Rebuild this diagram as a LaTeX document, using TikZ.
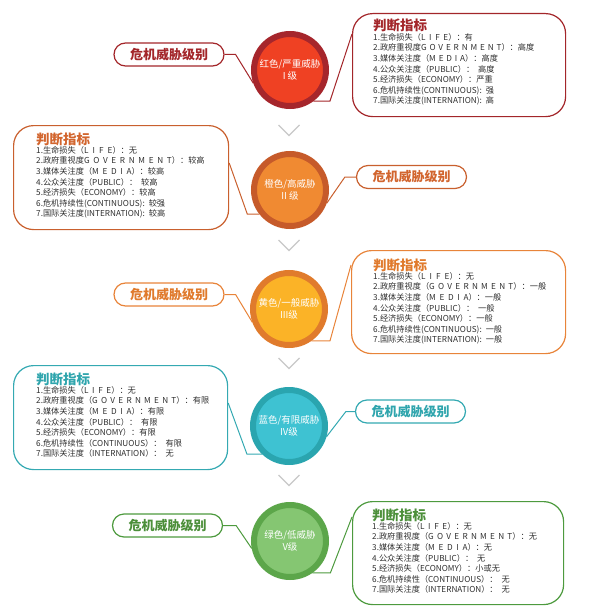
\documentclass[tikz,border=0pt]{standalone}
\usepackage{fontspec}
\setmainfont{Noto Sans CJK SC}
\usetikzlibrary{calc}
\newcommand\lsp[2][40]{{\addfontfeature{LetterSpace=#1}#2}}
\newcommand\gp{\hspace{4pt}}
\definecolor{ringA}{HTML}{A6262C}\definecolor{fillA}{HTML}{EF4123}\definecolor{lineA}{HTML}{A3262A}\definecolor{headA}{HTML}{A3262A}
\definecolor{ringB}{HTML}{C65A2A}\definecolor{fillB}{HTML}{F08A32}\definecolor{lineB}{HTML}{C9602E}\definecolor{headB}{HTML}{D2652E}
\definecolor{ringC}{HTML}{E07B2C}\definecolor{fillC}{HTML}{FBB327}\definecolor{lineC}{HTML}{E8843A}\definecolor{headC}{HTML}{E07A2C}
\definecolor{ringD}{HTML}{2AA5AF}\definecolor{fillD}{HTML}{3EC2D2}\definecolor{lineD}{HTML}{34A9B2}\definecolor{headD}{HTML}{2FA5AD}
\definecolor{ringE}{HTML}{5CA64A}\definecolor{fillE}{HTML}{85C672}\definecolor{lineE}{HTML}{4D9A3E}\definecolor{headE}{HTML}{4C8F3A}
\definecolor{bodytext}{HTML}{2E2E2E}
\definecolor{chev}{HTML}{C8C8C8}
\tikzset{
  lvcircle/.style={circle, line width=6pt, minimum size=72pt, inner sep=0pt,
    text=white, align=center, font=\fontsize{9.5}{12}\selectfont},
  infobox/.style={rectangle, rounded corners=20pt, line width=1.2pt, anchor=north west, inner sep=0pt},
  lvlabel/.style={rectangle, rounded corners=11.5pt, line width=1.2pt, minimum width=110pt,
    minimum height=23pt, inner sep=0pt, font=\fontsize{13}{15}\selectfont\bfseries},
  headtext/.style={anchor=west, inner sep=0pt, font=\fontsize{13.5}{16}\selectfont\bfseries},
  bodytxt/.style={anchor=north west, inner sep=0pt, align=left, text=bodytext,
    font=\fontsize{8.2}{10.6}\selectfont},
  conn/.style={line width=1pt},
  chevron/.style={draw=chev, line width=1.3pt},
}
\begin{document}
\begin{tikzpicture}[x=1pt,y=-1pt]
\useasboundingbox (0,0) rectangle (607,610);
% chevrons
\foreach \cy in {125,240,358,475}{
  \draw[chevron] (278.5,\cy) -- (289,\cy+10.5) -- (299.5,\cy);
}
% ---------- level 1
\node[lvcircle, draw=ringA, fill=fillA] (c1) at (290,70) {红色/严重威胁\\I 级};
\node[lvlabel, draw=lineA, text=headA, fill=white] (L1) at (169,54.5) {危机威胁级别};
\node[infobox, draw=lineA, minimum width=213pt, minimum height=103pt] (B1) at (352,13) {};
\node[headtext, text=headA] (H1) at ([xshift=21pt,yshift=-12pt]B1.north west) {判断指标};
\node[bodytxt] (D1) at ([xshift=21pt,yshift=-20pt]B1.north west) {1.生命损失（\lsp[45]{LIFE}）：有\\
2.政府重视度\lsp[35]{GOVERNMENT}）：高度\\
3.媒体关注度（\lsp[35]{MEDIA}）：高度\\
4.公众关注度（PUBLIC）：\gp 高度\\
5.经济损失（ECONOMY）：严重\\
6.危机持续性(CONTINUOUS):\gp 强\\
7.国际关注度(INTERNATION):\gp 高};
\draw[conn, draw=lineA] (L1.east) -- ++(11,0) -- (c1.200);
\draw[conn, draw=lineA] (c1.-53) -- ++(16.5,0) -- ([yshift=-21pt]B1.north west);
% ---------- level 2
\node[lvcircle, draw=ringB, fill=fillB] (c2) at (290,190) {橙色/高威胁\\II 级};
\node[lvlabel, draw=lineB, text=headB, fill=white] (L2) at (411.5,177) {危机威胁级别};
\node[infobox, draw=lineB, minimum width=215pt, minimum height=104pt] (B2) at (13,125) {};
\node[headtext, text=headB] (H2) at ([xshift=23pt,yshift=-14pt]B2.north west) {判断指标};
\node[bodytxt] (D2) at ([xshift=23pt,yshift=-21pt]B2.north west) {1.生命损失（\lsp[50]{LIFE}）：无\\
2.政府重视度\lsp[45]{GOVERNMENT}）：较高\\
3.媒体关注度（\lsp[45]{MEDIA}）：较高\\
4.公众关注度（PUBLIC）：\gp 较高\\
5.经济损失（ECONOMY）：较高\\
6.危机持续性(CONTINUOUS):\gp 较强\\
7.国际关注度(INTERNATION):\gp 较高};
\draw[conn, draw=lineB] ([yshift=-38pt]B2.north east) -- ($(c2.218)+(-12,0)$) -- (c2.218);
\draw[conn, draw=lineB] (L2.west) -- ++(-11,0) -- (c2.-20);
% ---------- level 3
\node[lvcircle, draw=ringC, fill=fillC] (c3) at (289,309) {黄色/一般威胁\\III级};
\node[lvlabel, draw=lineC, text=headC, fill=white] (L3) at (169,294.5) {危机威胁级别};
\node[infobox, draw=lineC, minimum width=214pt, minimum height=103pt] (B3) at (351,250) {};
\node[headtext, text=headC] (H3) at ([xshift=22pt,yshift=-15pt]B3.north west) {判断指标};
\node[bodytxt] (D3) at ([xshift=22pt,yshift=-22pt]B3.north west) {1.生命损失（\lsp[50]{LIFE}）：无\\
2.政府重视度（\lsp[40]{GOVERNMENT}）：一般\\
3.媒体关注度（\lsp[45]{MEDIA}）：一般\\
4.公众关注度（PUBLIC）：\gp 一般\\
5.经济损失（ECONOMY）：一般\\
6.危机持续性(CONTINUOUS):\gp 一般\\
7.国际关注度(INTERNATION):\gp 一般};
\draw[conn, draw=lineC] (L3.east) -- ++(11,0) -- (c3.200);
\draw[conn, draw=lineC] (c3.-55) -- ++(18.6,0) -- ([yshift=-15pt]B3.north west);
% ---------- level 4
\node[lvcircle, draw=ringD, fill=fillD] (c4) at (289,426) {蓝色/有限威胁\\IV级};
\node[lvlabel, draw=lineD, text=headD, fill=white] (L4) at (410.5,411.5) {危机威胁级别};
\node[infobox, draw=lineD, minimum width=214pt, minimum height=104pt] (B4) at (13,365) {};
\node[headtext, text=headD] (H4) at ([xshift=23pt,yshift=-14pt]B4.north west) {判断指标};
\node[bodytxt] (D4) at ([xshift=23pt,yshift=-21pt]B4.north west) {1.生命损失（\lsp[45]{LIFE}）：无\\
2.政府重视度（\lsp[40]{GOVERNMENT}）：有限\\
3.媒体关注度（\lsp[45]{MEDIA}）：有限\\
4.公众关注度（PUBLIC）：\gp 有限\\
5.经济损失（ECONOMY）：有限\\
6.危机持续性（CONTINUOUS）：\gp 有限\\
7.国际关注度（INTERNATION）：\gp 无};
\draw[conn, draw=lineD] ([yshift=-38pt]B4.north east) -- ($(c4.226)+(-15,0)$) -- (c4.226);
\draw[conn, draw=lineD] (L4.west) -- ++(-9,0) -- (c4.-16);
% ---------- level 5
\node[lvcircle, draw=ringE, fill=fillE] (c5) at (290,541) {绿色/低威胁\\V级};
\node[lvlabel, draw=lineE, text=headE, fill=white] (L5) at (167.5,525.5) {危机威胁级别};
\node[infobox, draw=lineE, minimum width=211pt, minimum height=103pt] (B5) at (352,501) {};
\node[headtext, text=headE] (H5) at ([xshift=20pt,yshift=-14pt]B5.north west) {判断指标};
\node[bodytxt] (D5) at ([xshift=20pt,yshift=-21pt]B5.north west) {1.生命损失（\lsp[45]{LIFE}）：无\\
2.政府重视度（\lsp[40]{GOVERNMENT}）：无\\
3.媒体关注度（\lsp[45]{MEDIA}）：无\\
4.公众关注度（PUBLIC）：\gp 无\\
5.经济损失（ECONOMY）：小或无\\
6.危机持续性（CONTINUOUS）：\gp 无\\
7.国际关注度（INTERNATION）：\gp 无};
\draw[conn, draw=lineE] (L5.east) -- ++(13,0) -- (c5.191);
\draw[conn, draw=lineE] (c5.-55) -- ++(18,0) -- ([yshift=-16pt]B5.north west);
\end{tikzpicture}
\end{document}
